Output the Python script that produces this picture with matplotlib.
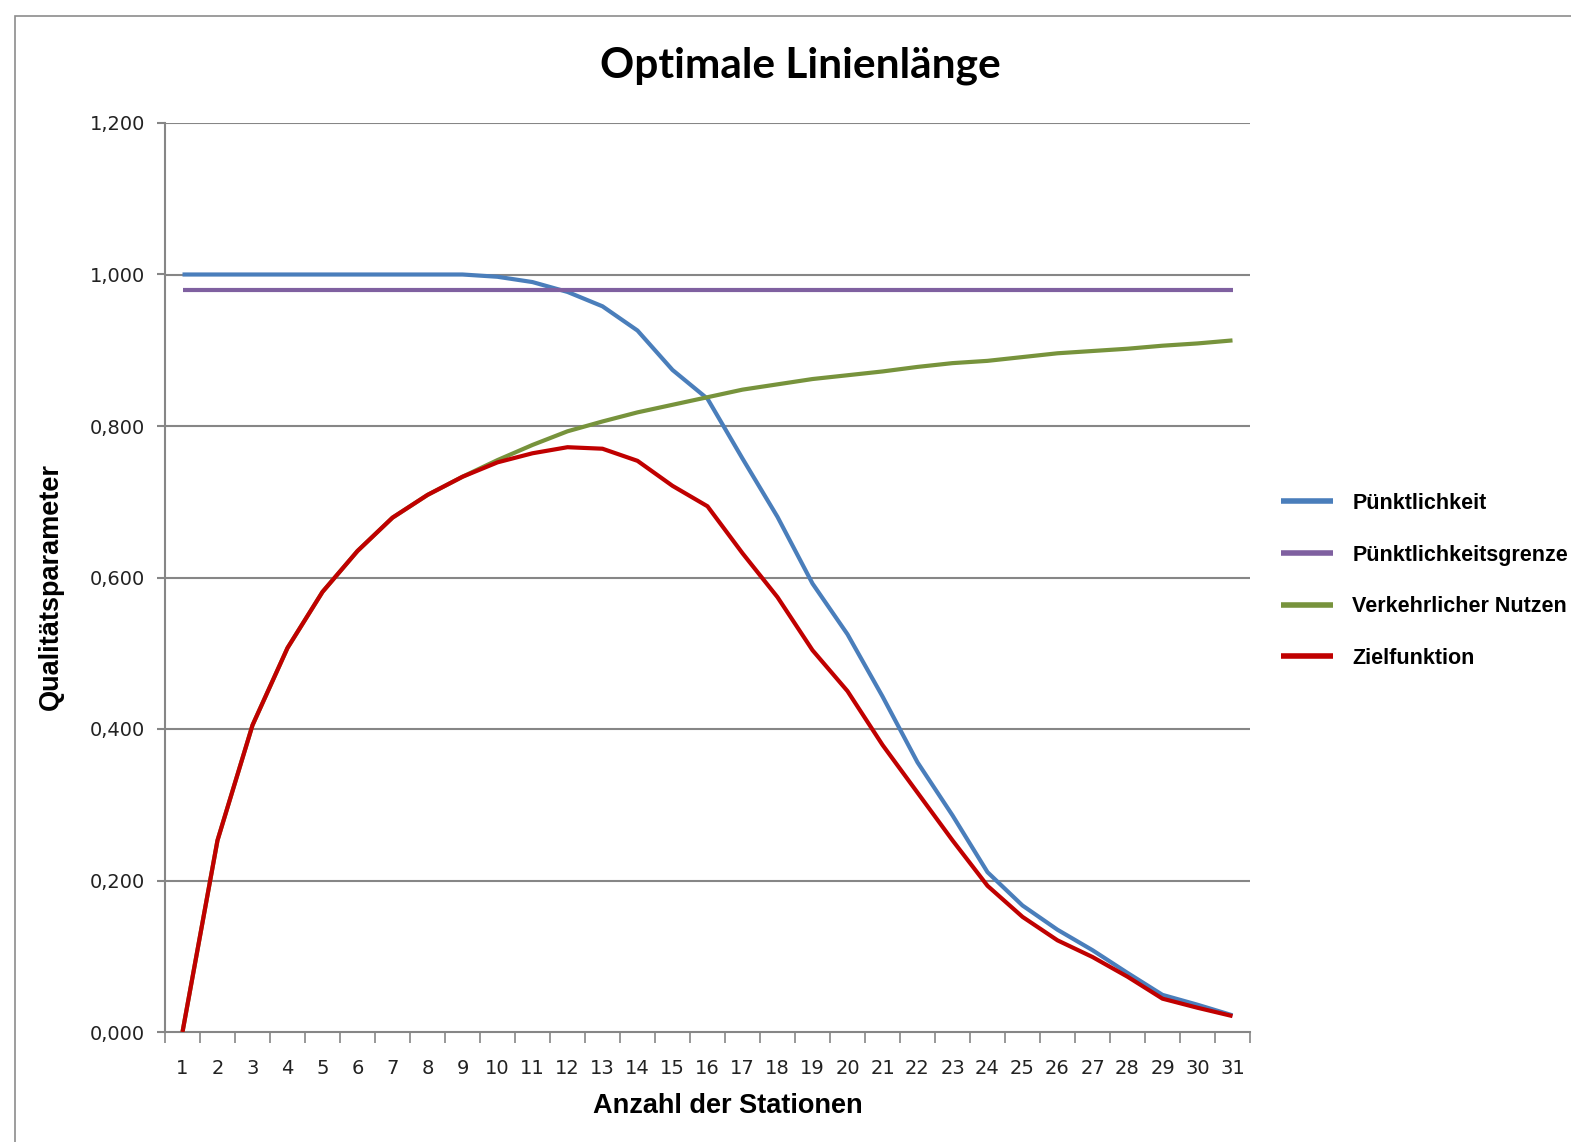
import matplotlib
matplotlib.use("Agg")
import matplotlib.pyplot as plt
from matplotlib.patches import Rectangle
from matplotlib.ticker import MultipleLocator, FixedLocator, FuncFormatter

# Data
stations = list(range(1, 32))
puenktlichkeit = [1.000, 1.000, 1.000, 1.000, 1.000, 1.000, 1.000, 1.000, 1.000, 0.997,
                  0.990, 0.977, 0.958, 0.926, 0.874, 0.836, 0.757, 0.680, 0.592, 0.525,
                  0.443, 0.356, 0.286, 0.211, 0.167, 0.135, 0.108, 0.078, 0.049, 0.036,
                  0.022]
grenze = [0.980] * 31
nutzen = [0.000, 0.253, 0.405, 0.507, 0.581, 0.635, 0.679, 0.709, 0.733, 0.755,
          0.775, 0.793, 0.806, 0.818, 0.828, 0.838, 0.848, 0.855, 0.862, 0.867,
          0.872, 0.878, 0.883, 0.886, 0.891, 0.896, 0.899, 0.902, 0.906, 0.909,
          0.913]
ziel = [0.000, 0.253, 0.405, 0.507, 0.581, 0.635, 0.679, 0.709, 0.733, 0.752,
        0.764, 0.772, 0.770, 0.754, 0.721, 0.694, 0.632, 0.574, 0.504, 0.450,
        0.379, 0.316, 0.253, 0.193, 0.152, 0.121, 0.099, 0.073, 0.044, 0.032,
        0.021]

series = [
    ("Pünktlichkeit", puenktlichkeit, "#4a7ebb"),
    ("Pünktlichkeitsgrenze", grenze, "#7f60a0"),
    ("Verkehrlicher Nutzen", nutzen, "#77933c"),
    ("Zielfunktion", ziel, "#c00000"),
]

W, H = 1571, 1142
fig = plt.figure(figsize=(W / 100, H / 100), dpi=100)
ax = fig.add_axes([165 / W, 1 - 1032 / H, 1085 / W, 909 / H])

grid_c = "#868686"
for v in [0.2, 0.4, 0.6, 0.8, 1.0, 1.2]:
    ax.axhline(v, color=grid_c, lw=1.5, zorder=1)

for name, vals, col in series:
    ax.plot(stations, vals, color=col, lw=3, label=name, zorder=3,
            solid_capstyle="butt")

ax.set_xlim(0.5, 31.5)
ax.set_ylim(0, 1.2)
for s in ["top", "right"]:
    ax.spines[s].set_visible(False)
for s in ["left", "bottom"]:
    ax.spines[s].set_color(grid_c)
    ax.spines[s].set_linewidth(1.5)

ax.yaxis.set_major_locator(MultipleLocator(0.2))
ax.yaxis.set_major_formatter(FuncFormatter(lambda v, p: f"{v:.3f}".replace(".", ",")))
ax.tick_params(axis="y", length=5.8, width=1.5, color=grid_c, pad=8.5,
               labelsize=14, labelcolor="#222222")

ax.xaxis.set_major_locator(FixedLocator(stations))
ax.xaxis.set_minor_locator(FixedLocator([s + 0.5 for s in range(0, 32)]))
ax.tick_params(axis="x", which="major", length=0, pad=19.5, labelsize=14,
               labelcolor="#222222")
ax.tick_params(axis="x", which="minor", length=8, width=1.2, color=grid_c)
for lab in ax.get_xticklabels() + ax.get_yticklabels():
    lab.set_family("DejaVu Sans")

fig.text(800 / W, 1 - 66 / H, "Optimale Linienlänge", ha="center", va="center",
         fontsize=30.5, fontweight="bold", family="Lato")
fig.text(728 / W, 1 - 1106 / H, "Anzahl der Stationen", ha="center", va="center",
         fontsize=19.5, fontweight="bold", family="Liberation Sans")
fig.text(51 / W, 1 - 587 / H, "Qualitätsparameter", ha="center", va="center",
         rotation=90, fontsize=19.5, fontweight="bold", family="Liberation Sans")

leg = fig.legend(loc="upper left", bbox_to_anchor=(1281 / W, 1 - 493 / H),
                 frameon=False, borderpad=0, borderaxespad=0, handlelength=2.4,
                 handletextpad=0.92, labelspacing=1.42,
                 prop={"family": "Liberation Sans", "weight": "bold", "size": 15.5})
for line in leg.get_lines():
    line.set_linewidth(4)

# outer chart frame
fig.patches.append(Rectangle((15 / W, -0.01), 1.1, 1 - 16 / H + 0.01,
                             transform=fig.transFigure, fill=False,
                             edgecolor="#8c8c8c", lw=1.2))

fig.savefig("out.png", dpi=100)
